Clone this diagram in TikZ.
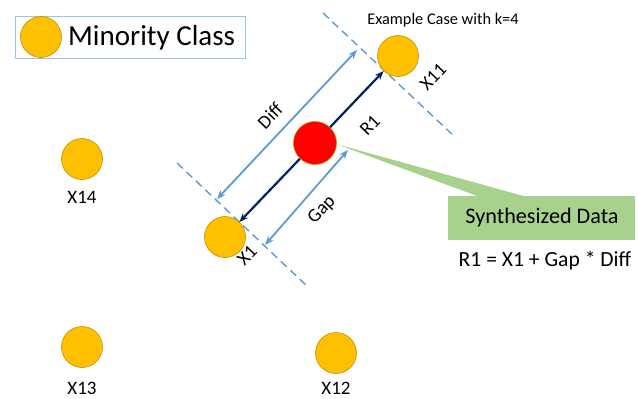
\documentclass[tikz,border=0pt]{standalone}
\usepackage{fontspec}
\setmainfont{Carlito}
\usetikzlibrary{arrows.meta}
\definecolor{gold}{HTML}{FFC000}
\definecolor{goldedge}{HTML}{BF9000}
\definecolor{sky}{HTML}{5B9BD5}
\definecolor{skylight}{HTML}{9DC3E6}
\definecolor{navy}{HTML}{002060}
\definecolor{sgreen}{HTML}{A9D18E}
\begin{document}
\begin{tikzpicture}[x=1pt,y=-1pt,
  minpt/.style={circle, fill=gold, draw=goldedge, line width=0.6pt, minimum size=41pt, inner sep=0pt},
  synpt/.style={circle, fill=red, draw=goldedge, line width=0.6pt, minimum size=43pt, inner sep=0pt},
  lbl/.style={font=\fontsize{19}{22}\selectfont, inner sep=0pt},
  dashline/.style={draw=sky, line width=1.4pt, dash pattern=on 8pt off 5pt},
  navyarrow/.style={draw=navy, line width=2.2pt, -{Stealth[length=9pt,width=7pt]}},
  skyarrow/.style={draw=sky, line width=1.8pt, {Stealth[length=9pt,width=7pt]}-{Stealth[length=9pt,width=7pt]}}
]
\useasboundingbox (0,0) rectangle (638,399);

% legend
\node[draw=skylight, line width=1pt, minimum width=230pt, minimum height=42pt, inner sep=0pt] (legend) at (130,37) {};
\node[minpt] (legpt) at (41,37) {};
\node[anchor=west, font=\fontsize{29}{31}\selectfont, inner sep=0pt] (legtext) at (68,38) {Minority Class};

% title
\node[font=\fontsize{16.3}{19}\selectfont, inner sep=0pt] (title) at (443,20) {Example Case with k=4};

% dashed lines
\coordinate (d1a) at (323,13);
\coordinate (d1b) at (455,137);
\coordinate (d2a) at (177,163);
\coordinate (d2b) at (308,287);
\draw[dashline] (d1a) -- (d1b);
\draw[dashline] (d2a) -- (d2b);

% callout
\coordinate (ctip) at (336,144);
\coordinate (cb1) at (480,197);
\coordinate (cb2) at (527,197);
\fill[sgreen] (ctip) -- (cb1) -- (cb2) -- cycle;
\node[fill=sgreen, minimum width=187pt, minimum height=44pt, inner sep=0pt] (syn) at (541.5,218) {};
\node[font=\fontsize{22.2}{26}\selectfont, inner sep=0pt] (syntext) at (542,218) {Synthesized Data};
\node[font=\fontsize{21.6}{25}\selectfont, inner sep=0pt] (formula) at (545,261) {R1 = X1 + Gap * Diff};

% points
\node[minpt] (X11) at (398,56) {};
\node[minpt] (X1) at (225,237) {};
\node[synpt] (R) at (315,143) {};
\node[minpt] (X14) at (82,159) {};
\node[minpt] (X13) at (82,347) {};
\node[minpt] (X12) at (336,353) {};

% navy arrows
\draw[navyarrow] (R) -- (X11);
\draw[navyarrow] (R) -- (X1);

% sky arrows
\coordinate (diffa) at (217,199);
\coordinate (diffb) at (357,50);
\coordinate (gapa) at (265,245);
\coordinate (gapb) at (348,150);
\draw[skyarrow] (diffa) -- (diffb);
\draw[skyarrow] (gapa) -- (gapb);

% labels
\node[lbl] (lX14) at (82,197) {X14};
\node[lbl, anchor=base] (lX13) at (82,394.5) {X13};
\node[lbl, anchor=base] (lX12) at (336,394.5) {X12};
\node[lbl, rotate=46] (lX1) at (247,255) {X1};
\node[lbl, rotate=46] (lX11) at (433,77) {X11};
\node[lbl, rotate=46] (lDiff) at (270,116) {Diff};
\node[lbl, rotate=46] (lR1) at (370,125) {R1};
\node[lbl, rotate=46] (lGap) at (322,210) {Gap};
\end{tikzpicture}
\end{document}
